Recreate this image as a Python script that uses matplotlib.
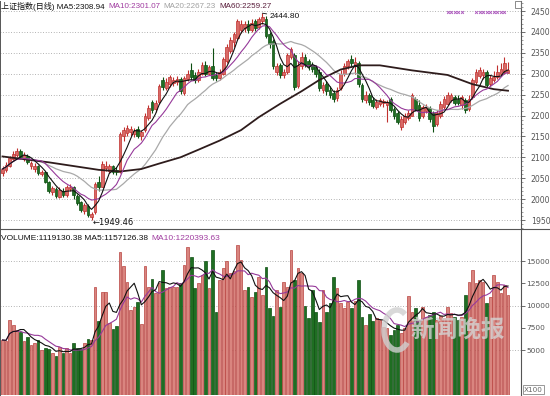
import numpy as np
import pandas as pd
import matplotlib
matplotlib.use('Agg')
import matplotlib.pyplot as plt
from matplotlib.lines import Line2D
from matplotlib.patches import Rectangle, Arc
from matplotlib.ticker import MultipleLocator, FixedLocator

plt.rcParams['font.family'] = ['Liberation Sans', 'Noto Sans CJK SC', 'DejaVu Sans']

# ---------------- data ----------------
opens = [2062, 2070, 2080, 2095, 2105, 2115, 2098, 2104, 2078, 2072,
         2078, 2060, 2064, 2040, 2018, 2024, 2006, 2020, 2010, 2024,
         2028, 2008, 1992, 1972, 1984, 1956, 1968, 2040, 2030, 2075,
         2068, 2078, 2070, 2065, 2150, 2158, 2160, 2155, 2168, 2150,
         2165, 2195, 2232, 2215, 2232, 2285, 2265, 2275, 2278, 2280,
         2288, 2255, 2288, 2310, 2298, 2285, 2300, 2322, 2300, 2318,
         2298, 2290, 2300, 2330, 2355, 2375, 2385, 2405, 2410, 2420,
         2405, 2425, 2412, 2425, 2430, 2395, 2378, 2305, 2320, 2298,
         2305, 2340, 2345, 2270, 2318, 2340, 2330, 2320, 2315, 2305,
         2262, 2275, 2262, 2255, 2242, 2265, 2300, 2318, 2335, 2318,
         2325, 2272, 2238, 2250, 2236, 2220, 2228, 2230, 2225, 2240,
         2215, 2205, 2172, 2185, 2195, 2200, 2240, 2225, 2200, 2210,
         2218, 2205, 2180, 2200, 2220, 2228, 2238, 2245, 2240, 2225,
         2238, 2215, 2245, 2280, 2295, 2298, 2305, 2275, 2285, 2292,
         2300, 2305, 2302]
closes = [2072, 2082, 2098, 2108, 2116, 2100, 2106, 2088, 2086, 2080,
          2062, 2066, 2042, 2020, 2026, 2008, 2022, 2010, 2028, 2030,
          2010, 1990, 1975, 1985, 1962, 1965, 2035, 2030, 2085, 2080,
          2078, 2066, 2064, 2155, 2165, 2170, 2168, 2162, 2152, 2160,
          2200, 2218, 2212, 2230, 2270, 2268, 2280, 2292, 2285, 2288,
          2258, 2290, 2300, 2292, 2285, 2305, 2320, 2300, 2315, 2290,
          2290, 2305, 2335, 2365, 2380, 2395, 2425, 2420, 2418, 2405,
          2422, 2410, 2430, 2435, 2390, 2370, 2318, 2318, 2298, 2305,
          2345, 2358, 2268, 2320, 2340, 2322, 2318, 2312, 2300, 2265,
          2272, 2258, 2250, 2240, 2262, 2300, 2318, 2330, 2325, 2328,
          2275, 2240, 2250, 2232, 2222, 2232, 2236, 2235, 2232, 2212,
          2198, 2185, 2192, 2200, 2205, 2248, 2215, 2195, 2220, 2220,
          2192, 2175, 2205, 2228, 2240, 2250, 2248, 2230, 2230, 2245,
          2212, 2240, 2285, 2305, 2308, 2305, 2272, 2290, 2293, 2305,
          2312, 2325, 2310]
highs = [2078, 2088, 2104, 2114, 2122, 2119, 2112, 2108, 2092, 2086,
         2082, 2070, 2068, 2044, 2032, 2028, 2028, 2026, 2034, 2035,
         2032, 2012, 1996, 1990, 1988, 1970, 2042, 2055, 2090, 2090,
         2085, 2082, 2076, 2160, 2172, 2178, 2176, 2170, 2175, 2166,
         2205, 2224, 2238, 2236, 2275, 2292, 2290, 2298, 2292, 2295,
         2292, 2295, 2308, 2325, 2305, 2312, 2328, 2330, 2322, 2362,
         2305, 2312, 2340, 2372, 2388, 2400, 2432, 2428, 2425, 2428,
         2430, 2432, 2436, 2444.8, 2438, 2400, 2382, 2325, 2325, 2312,
         2350, 2364, 2350, 2330, 2352, 2348, 2336, 2328, 2320, 2312,
         2280, 2282, 2270, 2262, 2268, 2308, 2325, 2336, 2345, 2340,
         2330, 2278, 2258, 2255, 2245, 2240, 2242, 2240, 2238, 2245,
         2220, 2210, 2198, 2205, 2212, 2253, 2245, 2238, 2226, 2228,
         2222, 2210, 2212, 2235, 2246, 2256, 2254, 2250, 2248, 2250,
         2242, 2248, 2290, 2312, 2316, 2312, 2310, 2296, 2306, 2322,
         2326, 2340, 2328]
lows = [2055, 2066, 2076, 2090, 2100, 2095, 2092, 2083, 2072, 2066,
        2058, 2055, 2038, 2015, 2010, 2003, 2002, 2004, 2006, 2020,
        2000, 1985, 1970, 1965, 1958, 1949.46, 1965, 2020, 2028, 2068,
        2062, 2060, 2058, 2062, 2140, 2150, 2152, 2148, 2145, 2142,
        2160, 2190, 2205, 2208, 2228, 2262, 2260, 2268, 2270, 2274,
        2252, 2250, 2282, 2285, 2278, 2280, 2296, 2295, 2296, 2285,
        2282, 2286, 2296, 2326, 2350, 2365, 2380, 2398, 2400, 2398,
        2400, 2402, 2408, 2418, 2385, 2362, 2312, 2298, 2290, 2290,
        2300, 2335, 2260, 2265, 2312, 2315, 2310, 2305, 2292, 2258,
        2255, 2250, 2242, 2232, 2235, 2260, 2295, 2312, 2318, 2300,
        2268, 2232, 2230, 2225, 2218, 2215, 2222, 2220, 2185, 2208,
        2192, 2180, 2165, 2180, 2190, 2198, 2210, 2188, 2195, 2205,
        2185, 2160, 2176, 2195, 2215, 2224, 2232, 2224, 2225, 2215,
        2205, 2210, 2240, 2275, 2290, 2288, 2268, 2270, 2280, 2288,
        2296, 2300, 2305]
volumes = [6126, 6050, 8374, 7776, 7250, 7060, 6050, 6500, 5564, 5750,
           6126, 5000, 5190, 5080, 4630, 4360, 5375, 4630, 5190, 4630,
           5750, 5190, 5080, 5750, 6250, 6126, 12050, 8260, 11560, 11560,
           8000, 7330, 7700, 16050, 14440, 12680, 9500, 9870, 10430, 7920,
           14440, 12120, 12950, 11370, 12570, 13990, 11930, 12120, 12120, 12120,
           12490, 14560, 16620, 15490, 11930, 12570, 13430, 15040, 11930, 16240,
           9310, 12870, 14180, 15040, 13620, 13920, 16800, 15120, 11750, 12050,
           10990, 11560, 13240, 11180, 14300, 9680, 8820, 11750, 9870, 12680,
           12120, 16240, 12870, 14180, 13620, 9950, 8560, 11750, 9310, 8190,
           11750, 9310, 10250, 13240, 11930, 10250, 9680, 10430, 9680, 10500,
           12870, 8670, 7810, 9040, 8300, 8560, 8380, 7550, 7440, 6690,
           7250, 7810, 6950, 7440, 11070, 9310, 9680, 8380, 9870, 8750,
           8930, 9310, 8380, 8820, 8560, 9870, 9120, 8670, 8380, 8750,
           11180, 12680, 13990, 12490, 12870, 12680, 10250, 10920, 13430, 12680,
           11370, 12300, 11191]
# 60-day average line, read at a few candle positions
ma60_idx = [0, 13, 27, 33, 39, 44, 50, 55, 61, 67, 72, 78, 84, 89, 95,
            100, 106, 115, 125, 132, 138, 142]
ma60_val = [2102, 2088, 2070, 2066, 2072, 2085, 2100, 2118, 2140, 2165,
            2196, 2228, 2258, 2285, 2310, 2320, 2320, 2308, 2297, 2275,
            2263, 2259.27]
marker_idx = [125, 126, 127, 128, 129, 133, 134, 135, 136, 137, 138, 139, 140, 141]
price_ticks = [1950, 2000, 2050, 2100, 2150, 2200, 2250, 2300, 2350, 2400, 2450]
vol_ticks = [5000, 7500, 10000, 12500, 15000]
vol_grid = [5000, 10000, 15000]
header_price = ['上证指数(日线) MA5:2308.94', 'MA10:2301.07', 'MA20:2267.23', 'MA60:2259.27']
header_vol = ['VOLUME:1119130.38 MA5:1157126.38', 'MA10:1220393.63']
watermark = '新闻晚报'

# ---------------- figure ----------------
W, H = 550, 396
fig = plt.figure(figsize=(W / 100, H / 100), dpi=100)
fig.patch.set_facecolor('white')

def fx(px):
    return px / W

def fy(py):
    return 1 - py / H

ax = fig.add_axes([0, fy(229), fx(521), (229 - 1) / H])
axv = fig.add_axes([0, fy(395), fx(521), (395 - 229) / H])

n = len(closes)
idx = np.arange(n)
o = np.array(opens, float); c = np.array(closes, float)
hi = np.array(highs, float); lo = np.array(lows, float)
v = np.array(volumes, float)
up = c >= o

RED_E, RED_F = '#c0302e', '#d86a66'
GRN_E, GRN_F = '#0e4f12', '#1f6e22'

# price panel
for yv in price_ticks:
    ax.axhline(yv, color='#9a9a9a', lw=0.6, ls=(0, (1, 2.2)), zorder=0)
ax.vlines(idx, lo, hi, colors=np.where(up, RED_E, GRN_E), lw=0.8, zorder=2)
body_b = np.minimum(o, c)
body_h = np.maximum(np.abs(c - o), 1.2)
ax.bar(idx, body_h, bottom=body_b, width=0.75,
       color=np.where(up, RED_F, GRN_F), edgecolor=np.where(up, RED_E, GRN_E),
       linewidth=0.5, zorder=3)

cs = pd.Series(c)
ma5 = cs.rolling(5, min_periods=1).mean()
ma10 = cs.rolling(10, min_periods=1).mean()
ma20 = cs.rolling(20, min_periods=1).mean()
ax.plot(idx, ma20, color='#a9a9a9', lw=0.9, zorder=4)
ax.plot(ma60_idx, ma60_val, color='#2e1c1c', lw=1.3, zorder=4)
ax.plot(idx, ma10, color='#96399a', lw=0.8, zorder=5)
ax.plot(idx, ma5, color='#111111', lw=0.8, zorder=6)

ax.scatter(marker_idx, [2447] * len(marker_idx), marker='x', s=4, lw=0.7,
           color='#b060c0', zorder=6)

ymin_p = 2450 - (229 - 11) * 50 / 20.9
ymax_p = 2450 - (1 - 11) * 50 / 20.9
ax.set_ylim(ymin_p, ymax_p)
ax.set_xlim(-2.5 / 3.56, (521 - 2.5) / 3.56)

# peak / trough labels
pk = int(np.argmax(hi)); tr = int(np.argmin(lo))
ax.annotate(f'{hi[pk]:.2f}', xy=(pk, hi[pk]), xytext=(pk + 2.0, hi[pk] - 9),
            fontsize=6, color='#111111', va='center', ha='left',
            arrowprops=dict(arrowstyle='-', color='#111111', lw=0.6,
                            shrinkA=0, shrinkB=0))
ax.text(tr + 0.2, lo[tr] - 5, f'\u2190{lo[tr]:.2f}', fontsize=6,
        color='#111111', va='center', ha='left',
        family=['DejaVu Sans'])

# volume panel
for yv in vol_grid:
    axv.axhline(yv, color='#9a9a9a', lw=0.6, ls=(0, (1, 2.2)), zorder=0)
axv.bar(idx, v, width=0.75, color=np.where(up, '#d9857f', GRN_F),
        edgecolor=np.where(up, '#b84440', GRN_E), linewidth=0.5, zorder=2)
vs = pd.Series(v)
axv.plot(idx, vs.rolling(10, min_periods=1).mean(), color='#96399a', lw=0.8, zorder=3)
axv.plot(idx, vs.rolling(5, min_periods=1).mean(), color='#111111', lw=0.8, zorder=4)
axv.set_ylim((394.5 - 395) * 112.4, (394.5 - 229) * 112.4)
axv.set_xlim(ax.get_xlim())

for a, pad in ((ax, 4), (axv, 0.8)):
    a.set_facecolor('none')
    a.spines['top'].set_visible(False)
    a.spines['bottom'].set_visible(False)
    a.spines['left'].set_color('#555555'); a.spines['left'].set_linewidth(0.7)
    a.spines['right'].set_color('#555555'); a.spines['right'].set_linewidth(0.8)
    a.yaxis.tick_right()
    a.set_xticks([])
    a.tick_params(axis='y', which='major', direction='out', length=3, width=0.6,
                  color='#555555', labelsize=5.6, labelcolor='#555555', pad=pad)
    a.tick_params(axis='y', which='minor', direction='out', length=1.6, width=0.5,
                  color='#777777')

ax.yaxis.set_major_locator(FixedLocator(price_ticks))
ax.yaxis.set_minor_locator(MultipleLocator(10))
ax.set_yticklabels([str(t) for t in price_ticks], family='DejaVu Sans')
axv.yaxis.set_major_locator(FixedLocator(vol_ticks))
axv.set_yticklabels([str(t) for t in vol_ticks], family='DejaVu Sans', fontsize=5.3)

# faint watermark in the volume panel
fig.add_artist(Arc((fx(397), fy(330)), fx(26), 40 / H, theta1=70, theta2=300,
                   color='#d0d0d0', lw=4, alpha=0.8, zorder=10))
fig.text(fx(458), fy(330), watermark, fontsize=17, color='#d4d4d4', alpha=0.8,
         ha='center', va='center', fontweight='bold', style='italic',
         family=['Noto Sans CJK SC'], zorder=10)

# separators
fig.add_artist(Line2D([0, 1], [fy(229), fy(229)], color='#555555', lw=0.8))
fig.add_artist(Line2D([0, 1], [fy(395.5), fy(395.5)], color='#777777', lw=0.6))

# headers, placed one after another
renderer = fig.canvas.get_renderer()

def header(pieces, colors, y, x0=1, gap=3.5, size=5.8):
    x = x0
    for s, col in zip(pieces, colors):
        t = fig.text(fx(x), fy(y), s, fontsize=size, color=col, va='center', ha='left')
        bb = t.get_window_extent(renderer=renderer)
        x = x + bb.width + gap

header(header_price, ['#111111', '#a03ca0', '#a0a0a0', '#5a1e3c'], 6.5)
header(header_vol, ['#111111', '#a03ca0'], 238.5, size=6.0)

# small icon and unit box
fig.add_artist(Rectangle((fx(515), fy(8)), fx(6), 7 / H, fill=False, ec='#777777', lw=0.6))
fig.text(fx(524), fy(389.5), 'X100', fontsize=5.2, color='#666666', va='center',
         family=['DejaVu Sans'],
         bbox=dict(boxstyle='square,pad=0.15', fc='white', ec='#888888', lw=0.6))

fig.savefig('out.png', dpi=100, facecolor='white')
